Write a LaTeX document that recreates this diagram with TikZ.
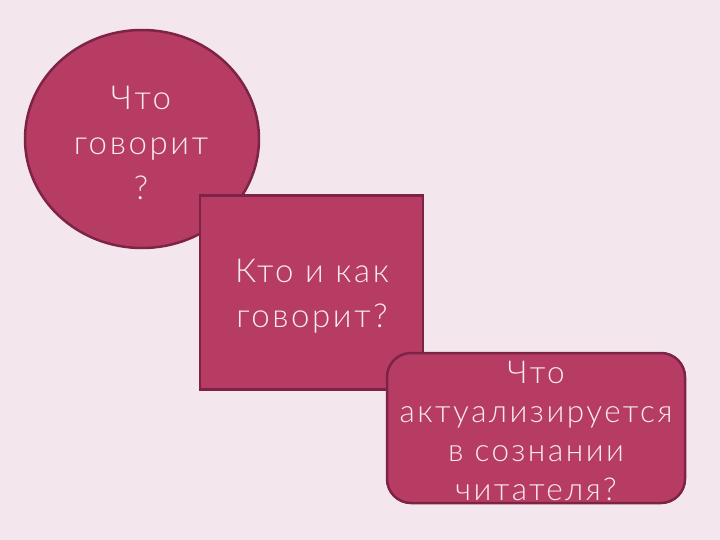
\documentclass[tikz,border=0pt]{standalone}
\usepackage{fontspec}
\setmainfont{Lato}[UprightFont=* Light, LetterSpace=8]
\usetikzlibrary{shapes.geometric}
\definecolor{bg}{HTML}{F3E6EC}
\definecolor{shapefill}{HTML}{B73C64}
\definecolor{shapeedge}{HTML}{7D2346}
\definecolor{txt}{HTML}{F8EAF0}
\tikzset{
  shapebox/.style={fill=shapefill, draw=shapeedge, line width=2.5pt, inner sep=0pt},
  label/.style={text=txt, align=center},
}
\begin{document}
\begin{tikzpicture}[x=1pt,y=-1pt]
\fill[bg] (0,0) rectangle (720,540);
\useasboundingbox (0,0) rectangle (720,540);
\node[shapebox, ellipse, minimum width=234pt, minimum height=218pt] (q1) at (142,139) {};
\node[label, font=\fontsize{33}{45}\selectfont] (t1) at (141,143) {Что\\говорит\\?};
\node[shapebox, rectangle, minimum width=223pt, minimum height=194pt] (q2) at (311.5,292.5) {};
\node[label, font=\fontsize{33}{45}\selectfont] (t2) at (312,296) {Кто и как\\говорит?};
\node[shapebox, rectangle, rounded corners=24pt, minimum width=298pt, minimum height=150pt] (q3) at (536,428) {};
\node[label, font=\fontsize{31.5}{39}\selectfont] (t3) at (536,431) {Что\\актуализируется\\в сознании\\читателя?};
\end{tikzpicture}
\end{document}
